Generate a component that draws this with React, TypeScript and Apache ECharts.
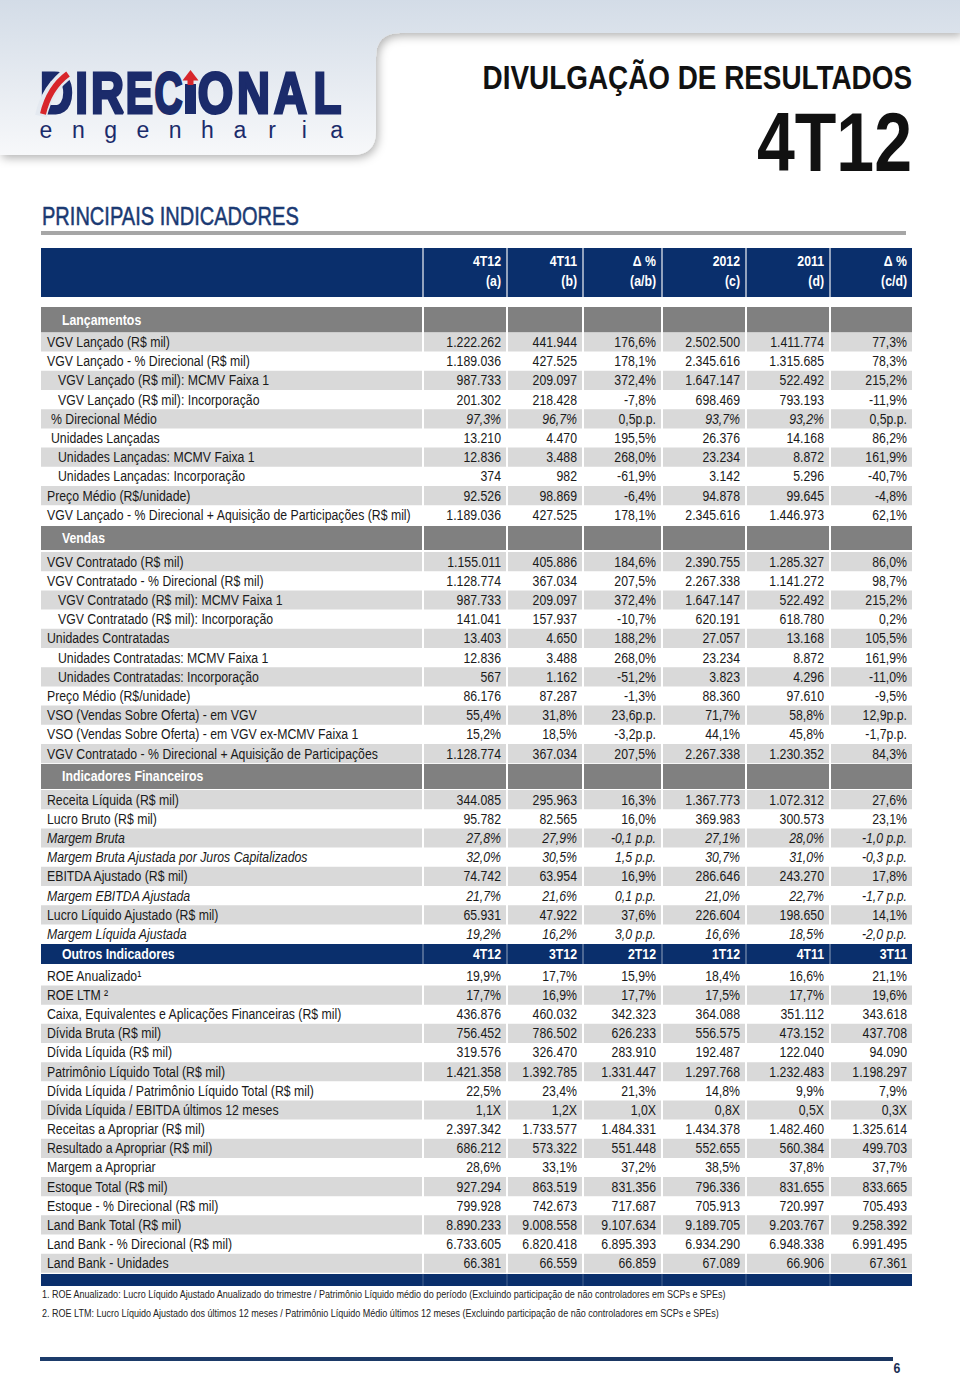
import React, { useEffect, useRef } from "react";
import * as echarts from "echarts";

// ---------------- DATA ----------------
const periodTop = ["4T12", "4T11", "Δ %", "2012", "2011", "Δ %"];
const periodSub = ["(a)", "(b)", "(a/b)", "(c)", "(d)", "(c/d)"];
const sectionTitles = ["Lançamentos", "Vendas", "Indicadores Financeiros", "Outros Indicadores"];
const otherPeriods = ["4T12", "3T12", "2T12", "1T12", "4T11", "3T11"];

const launchLabels = [
  "VGV Lançado (R$ mil)",
  "VGV Lançado - % Direcional (R$ mil)",
  "VGV Lançado (R$ mil): MCMV Faixa 1",
  "VGV Lançado (R$ mil): Incorporação",
  "% Direcional Médio",
  "Unidades Lançadas",
  "Unidades Lançadas: MCMV Faixa 1",
  "Unidades Lançadas: Incorporação",
  "Preço Médio (R$/unidade)",
  "VGV Lançado - % Direcional + Aquisição de Participações (R$ mil)",
];
const launch4T12 = ["1.222.262", "1.189.036", "987.733", "201.302", "97,3%", "13.210", "12.836", "374", "92.526", "1.189.036"];
const launch4T11 = ["441.944", "427.525", "209.097", "218.428", "96,7%", "4.470", "3.488", "982", "98.869", "427.525"];
const launchQoQ = ["176,6%", "178,1%", "372,4%", "-7,8%", "0,5p.p.", "195,5%", "268,0%", "-61,9%", "-6,4%", "178,1%"];
const launch2012 = ["2.502.500", "2.345.616", "1.647.147", "698.469", "93,7%", "26.376", "23.234", "3.142", "94.878", "2.345.616"];
const launch2011 = ["1.411.774", "1.315.685", "522.492", "793.193", "93,2%", "14.168", "8.872", "5.296", "99.645", "1.446.973"];
const launchYoY = ["77,3%", "78,3%", "215,2%", "-11,9%", "0,5p.p.", "86,2%", "161,9%", "-40,7%", "-4,8%", "62,1%"];

const salesLabels = [
  "VGV Contratado (R$ mil)",
  "VGV Contratado - % Direcional (R$ mil)",
  "VGV Contratado (R$ mil): MCMV Faixa 1",
  "VGV Contratado (R$ mil): Incorporação",
  "Unidades Contratadas",
  "Unidades Contratadas: MCMV Faixa 1",
  "Unidades Contratadas: Incorporação",
  "Preço Médio (R$/unidade)",
  "VSO (Vendas Sobre Oferta) - em VGV",
  "VSO (Vendas Sobre Oferta) - em VGV ex-MCMV Faixa 1",
  "VGV Contratado - % Direcional + Aquisição de Participações",
];
const sales4T12 = ["1.155.011", "1.128.774", "987.733", "141.041", "13.403", "12.836", "567", "86.176", "55,4%", "15,2%", "1.128.774"];
const sales4T11 = ["405.886", "367.034", "209.097", "157.937", "4.650", "3.488", "1.162", "87.287", "31,8%", "18,5%", "367.034"];
const salesQoQ = ["184,6%", "207,5%", "372,4%", "-10,7%", "188,2%", "268,0%", "-51,2%", "-1,3%", "23,6p.p.", "-3,2p.p.", "207,5%"];
const sales2012 = ["2.390.755", "2.267.338", "1.647.147", "620.191", "27.057", "23.234", "3.823", "88.360", "71,7%", "44,1%", "2.267.338"];
const sales2011 = ["1.285.327", "1.141.272", "522.492", "618.780", "13.168", "8.872", "4.296", "97.610", "58,8%", "45,8%", "1.230.352"];
const salesYoY = ["86,0%", "98,7%", "215,2%", "0,2%", "105,5%", "161,9%", "-11,0%", "-9,5%", "12,9p.p.", "-1,7p.p.", "84,3%"];

const finLabels = [
  "Receita Líquida (R$ mil)",
  "Lucro Bruto (R$ mil)",
  "Margem Bruta",
  "Margem Bruta Ajustada por Juros Capitalizados",
  "EBITDA Ajustado (R$ mil)",
  "Margem EBITDA Ajustada",
  "Lucro Líquido Ajustado (R$ mil)",
  "Margem Líquida Ajustada",
];
const fin4T12 = ["344.085", "95.782", "27,8%", "32,0%", "74.742", "21,7%", "65.931", "19,2%"];
const fin4T11 = ["295.963", "82.565", "27,9%", "30,5%", "63.954", "21,6%", "47.922", "16,2%"];
const finQoQ = ["16,3%", "16,0%", "-0,1 p.p.", "1,5 p.p.", "16,9%", "0,1 p.p.", "37,6%", "3,0 p.p."];
const fin2012 = ["1.367.773", "369.983", "27,1%", "30,7%", "286.646", "21,0%", "226.604", "16,6%"];
const fin2011 = ["1.072.312", "300.573", "28,0%", "31,0%", "243.270", "22,7%", "198.650", "18,5%"];
const finYoY = ["27,6%", "23,1%", "-1,0 p.p.", "-0,3 p.p.", "17,8%", "-1,7 p.p.", "14,1%", "-2,0 p.p."];

const otherLabels = [
  "ROE Anualizado¹",
  "ROE LTM ²",
  "Caixa, Equivalentes e Aplicações Financeiras (R$ mil)",
  "Dívida Bruta (R$ mil)",
  "Dívida Líquida (R$ mil)",
  "Patrimônio Líquido Total (R$ mil)",
  "Dívida Líquida / Patrimônio Líquido Total (R$ mil)",
  "Dívida Líquida / EBITDA últimos 12 meses",
  "Receitas a Apropriar (R$ mil)",
  "Resultado a Apropriar (R$ mil)",
  "Margem a Apropriar",
  "Estoque Total (R$ mil)",
  "Estoque - % Direcional (R$ mil)",
  "Land Bank Total (R$ mil)",
  "Land Bank - % Direcional (R$ mil)",
  "Land Bank - Unidades",
];
const other4T12 = ["19,9%", "17,7%", "436.876", "756.452", "319.576", "1.421.358", "22,5%", "1,1X", "2.397.342", "686.212", "28,6%", "927.294", "799.928", "8.890.233", "6.733.605", "66.381"];
const other3T12 = ["17,7%", "16,9%", "460.032", "786.502", "326.470", "1.392.785", "23,4%", "1,2X", "1.733.577", "573.322", "33,1%", "863.519", "742.673", "9.008.558", "6.820.418", "66.559"];
const other2T12 = ["15,9%", "17,7%", "342.323", "626.233", "283.910", "1.331.447", "21,3%", "1,0X", "1.484.331", "551.448", "37,2%", "831.356", "717.687", "9.107.634", "6.895.393", "66.859"];
const other1T12 = ["18,4%", "17,5%", "364.088", "556.575", "192.487", "1.297.768", "14,8%", "0,8X", "1.434.378", "552.655", "38,5%", "796.336", "705.913", "9.189.705", "6.934.290", "67.089"];
const other4T11 = ["16,6%", "17,7%", "351.112", "473.152", "122.040", "1.232.483", "9,9%", "0,5X", "1.482.460", "560.384", "37,8%", "831.655", "720.997", "9.203.767", "6.948.338", "66.906"];
const other3T11 = ["21,1%", "19,6%", "343.618", "437.708", "94.090", "1.198.297", "7,9%", "0,3X", "1.325.614", "499.703", "37,7%", "833.665", "705.493", "9.258.392", "6.991.495", "67.361"];

const footnotes = [
  "1. ROE Anualizado: Lucro Líquido Ajustado Anualizado do trimestre / Patrimônio Líquido médio do período (Excluindo participação de não controladores em SCPs e SPEs)",
  "2. ROE LTM: Lucro Líquido Ajustado dos últimos 12 meses / Patrimônio Líquido Médio últimos 12 meses (Excluindo participação de não controladores em SCPs e SPEs)",
];

// ---------------- STYLE (kept apart from data) ----------------
const launchIndent = [0, 0, 2, 2, 1, 1, 2, 2, 0, 0];
const launchItalic = [0, 0, 0, 0, 1, 0, 0, 0, 0, 0];
const salesIndent = [0, 0, 2, 2, 0, 2, 2, 0, 0, 0, 0];
const salesItalic = [0, 0, 0, 0, 0, 0, 0, 0, 0, 0, 0];
const finIndent = [0, 0, 0, 0, 0, 0, 0, 0];
const finItalic = [0, 0, 2, 2, 0, 2, 0, 2];
const otherIndent = new Array(16).fill(0);
const otherItalic = new Array(16).fill(0);

const NAVY = "#0a2f6c";
const LOGO_NAVY = "#1b2b6b";
const LOGO_RED = "#d8262b";
const GRAYBAR = "#808080";
const STRIPE = "#d9d9d9";
const INK = "#1a1a1a";
const COL_L = [41, 424, 508, 584, 663, 747, 831];
const COL_R = [422, 506, 582, 661, 745, 829, 912];
const INDENT_PX = [0, 4, 11];
const ROW_FONT = 15;

const PANEL_D = "M0 0 H960 V33 H400 Q376 33 376 57 V131 Q376 155 352 155 H0 Z";

let NARROW_OK = true;
function detectNarrow() {
  try {
    const c = document.createElement("canvas").getContext("2d") as CanvasRenderingContext2D;
    const s = "abcdefghijklmnopWMQ0123";
    c.font = '40px "Liberation Sans Narrow", monospace';
    const a = c.measureText(s).width;
    c.font = "40px monospace";
    const b = c.measureText(s).width;
    return Math.abs(a - b) > 1;
  } catch (e) {
    return false;
  }
}

function T(x: number, y: number, text: string, o: any = {}) {
  const narrow = o.narrow !== false;
  const family = narrow && NARROW_OK
    ? '"Liberation Sans Narrow", "Arial Narrow", sans-serif'
    : '"Liberation Sans", Arial, sans-serif';
  let sx = o.sx ?? 1;
  if (narrow && !NARROW_OK) sx *= 0.82;
  const align = o.align || "left";
  const va = o.vAlign || "middle";
  const style: any = {
    text,
    x: 0,
    y: 0,
    fill: o.fill || INK,
    fontSize: o.size || ROW_FONT,
    fontFamily: family,
    fontWeight: o.bold ? "bold" : "normal",
    fontStyle: o.italic ? "italic" : "normal",
    align,
    textAlign: align,
    verticalAlign: va,
    textVerticalAlign: va,
  };
  if (o.stroke) {
    style.stroke = o.stroke;
    style.lineWidth = o.lineWidth || 1;
  }
  return { type: "text", x, y, scaleX: sx, silent: true, z: o.z ?? 5, style };
}

const sections = [
  { labels: launchLabels, cols: [launch4T12, launch4T11, launchQoQ, launch2012, launch2011, launchYoY], indent: launchIndent, italic: launchItalic, firstGray: true, top: 332.4, rowH: 19.2, delta: [2, 5] },
  { labels: salesLabels, cols: [sales4T12, sales4T11, salesQoQ, sales2012, sales2011, salesYoY], indent: salesIndent, italic: salesItalic, firstGray: true, top: 552, rowH: 19.2, delta: [2, 5] },
  { labels: finLabels, cols: [fin4T12, fin4T11, finQoQ, fin2012, fin2011, finYoY], indent: finIndent, italic: finItalic, firstGray: true, top: 790, rowH: 19.2, delta: [] },
  { labels: otherLabels, cols: [other4T12, other3T12, other2T12, other1T12, other4T11, other3T11], indent: otherIndent, italic: otherItalic, firstGray: false, top: 966.4, rowH: 19.15, delta: [] },
];

function makeRender(sec: any) {
  return (params: any, api: any) => {
    const i = api.value(1) as number;
    const pt = api.coord([0, i]);
    const h = api.size([0, 1])[1];
    const yc = pt[1];
    const y0 = yc - h / 2;
    const children: any[] = [];
    const gray = (i % 2 === 0) === sec.firstGray;
    if (gray) {
      for (let c = 0; c < 7; c++) {
        children.push({
          type: "rect",
          shape: { x: COL_L[c], y: y0, width: COL_R[c] - COL_L[c], height: h },
          style: { fill: STRIPE },
          z2: 0,
        });
      }
    }
    const it = sec.italic[i];
    children.push(T(47 + INDENT_PX[sec.indent[i]], yc, sec.labels[i], { italic: it === 2 }));
    for (let c = 0; c < 6; c++) {
      const isDelta = sec.delta.indexOf(c) >= 0;
      const ital = it === 2 || (it === 1 && !isDelta);
      children.push(T(COL_R[c + 1] - 5, yc, sec.cols[c][i], { italic: ital, align: "right" }));
    }
    return { type: "group", children };
  };
}

function buildGraphic() {
  const els: any[] = [];
  // header panel background
  els.push({
    type: "hdrPanel",
    x: 0,
    y: 0,
    z: 0,
    silent: true,
    style: {
      fill: new echarts.graphic.LinearGradient(0, 0, 0, 1, [
        { offset: 0, color: "#d3dce7" },
        { offset: 1, color: "#f7f8fa" },
      ]),
      shadowBlur: 10,
      shadowColor: "rgba(0,0,0,0.30)",
      shadowOffsetX: 2,
      shadowOffsetY: 3,
    },
  });

  // logo word (heavy, condensed letters)
  const word = "DIRECIONAL";
  const centers = [56.5, 81.5, 107.5, 139.5, 168.5, -1, 215.5, 253.5, 290.5, 327.5];
  const sxs = [0.8, 0.8, 0.8, 0.72, 0.68, 0, 0.8, 0.8, 0.8, 0.8];
  for (let k = 0; k < word.length; k++) {
    if (centers[k] < 0) continue;
    els.push(T(centers[k], 93, word[k], { narrow: false, bold: true, size: 57, sx: sxs[k], fill: LOGO_NAVY, align: "center", stroke: LOGO_NAVY, lineWidth: 3 }));
  }
  // arrow "I"
  els.push({ type: "rect", z: 6, silent: true, shape: { x: 185, y: 84, width: 11, height: 30 }, style: { fill: LOGO_NAVY } });
  els.push({ type: "rect", z: 6, silent: true, shape: { x: 187.5, y: 78, width: 6, height: 7 }, style: { fill: LOGO_RED } });
  els.push({ type: "polygon", z: 6, silent: true, shape: { points: [[182.5, 80.5], [198.5, 80.5], [190.5, 70]] }, style: { fill: LOGO_RED } });
  // D swoosh
  els.push({ type: "bezierCurve", z: 6, silent: true, shape: { x1: 41, y1: 116, x2: 70, y2: 72, cpx1: 47, cpy1: 88 }, style: { stroke: "#e4e9f0", lineWidth: 12, fill: "none" } });
  els.push({ type: "bezierCurve", z: 7, silent: true, shape: { x1: 43, y1: 114, x2: 68, y2: 74, cpx1: 49, cpy1: 88 }, style: { stroke: LOGO_RED, lineWidth: 6, fill: "none" } });
  // engenharia
  const sub = "engenharia";
  for (let k = 0; k < sub.length; k++) {
    els.push(T(46 + k * 32.3, 130, sub[k], { narrow: false, size: 23, fill: LOGO_NAVY, align: "center" }));
  }

  // titles
  els.push(T(912, 77, "DIVULGAÇÃO DE RESULTADOS", { bold: true, size: 33, sx: 1.03, align: "right", fill: "#111" }));
  els.push(T(912, 142, "4T12", { bold: true, size: 83, align: "right", fill: "#111" }));
  els.push(T(42, 216.5, "PRINCIPAIS INDICADORES", { size: 26, sx: 0.94, fill: "#1b3a73", stroke: "#1b3a73", lineWidth: 0.5 }));
  els.push({ type: "rect", silent: true, shape: { x: 41, y: 231, width: 865, height: 4 }, style: { fill: "#a6a6a6" } });

  // table header
  els.push({ type: "rect", silent: true, shape: { x: 41, y: 248, width: 871, height: 49 }, style: { fill: NAVY } });
  for (let c = 1; c < 7; c++) {
    const gx = (COL_R[c - 1] + COL_L[c]) / 2;
    els.push({ type: "rect", silent: true, z: 1, shape: { x: gx - 0.75, y: 248, width: 1.5, height: 49 }, style: { fill: "rgba(255,255,255,0.75)" } });
    els.push(T(COL_R[c] - 5, 261, periodTop[c - 1], { bold: true, align: "right", fill: "#fff" }));
    els.push(T(COL_R[c] - 5, 281, periodSub[c - 1], { bold: true, align: "right", fill: "#fff" }));
  }

  // gray section bars
  const bars = [
    { y: 307, h: 25.4 },
    { y: 526, h: 24 },
    { y: 764, h: 25 },
  ];
  bars.forEach((b, k) => {
    for (let c = 0; c < 7; c++) {
      els.push({ type: "rect", silent: true, shape: { x: COL_L[c], y: b.y, width: COL_R[c] - COL_L[c], height: b.h }, style: { fill: GRAYBAR } });
    }
    els.push(T(62, b.y + b.h / 2, sectionTitles[k], { bold: true, fill: "#fff" }));
  });

  // Outros Indicadores bar
  els.push({ type: "rect", silent: true, shape: { x: 41, y: 944, width: 871, height: 20 }, style: { fill: NAVY } });
  for (let c = 1; c < 7; c++) {
    const gx = (COL_R[c - 1] + COL_L[c]) / 2;
    els.push({ type: "rect", silent: true, z: 1, shape: { x: gx - 0.5, y: 944, width: 1, height: 20 }, style: { fill: "rgba(255,255,255,0.55)" } });
    els.push(T(COL_R[c] - 5, 954, otherPeriods[c - 1], { bold: true, align: "right", fill: "#fff" }));
  }
  els.push(T(62, 954, sectionTitles[3], { bold: true, fill: "#fff" }));

  // closing bar
  els.push({ type: "rect", silent: true, shape: { x: 41, y: 1274, width: 871, height: 12 }, style: { fill: NAVY } });
  for (let c = 1; c < 7; c++) {
    const gx = (COL_R[c - 1] + COL_L[c]) / 2;
    els.push({ type: "rect", silent: true, z: 1, shape: { x: gx - 0.5, y: 1274, width: 1, height: 12 }, style: { fill: "rgba(255,255,255,0.25)" } });
  }

  // footnotes
  footnotes.forEach((f, k) => {
    els.push(T(42, 1294 + k * 19, f, { size: 11, fill: "#222" }));
  });

  // page footer
  els.push({
    type: "rect",
    silent: true,
    shape: { x: 40, y: 1357, width: 853, height: 4 },
    style: {
      fill: new echarts.graphic.LinearGradient(0, 0, 1, 0, [
        { offset: 0, color: "#1d3c6b" },
        { offset: 1, color: "#1a3560" },
      ]),
    },
  });
  els.push(T(897, 1368, "6", { bold: true, size: 15, align: "center", fill: "#1c2f55" }));
  return els;
}

function buildOption() {
  return {
    animation: false,
    grid: sections.map((s) => ({ left: 0, width: 960, top: s.top, height: s.labels.length * s.rowH, containLabel: false, show: false })),
    xAxis: sections.map((_, k) => ({ type: "value", gridIndex: k, min: 0, max: 960, show: false })),
    yAxis: sections.map((s, k) => ({ type: "category", gridIndex: k, inverse: true, data: s.labels, show: false })),
    series: sections.map((s, k) => ({
      type: "custom",
      coordinateSystem: "cartesian2d",
      xAxisIndex: k,
      yAxisIndex: k,
      silent: true,
      clip: false,
      encode: { x: 0, y: 1 },
      data: s.labels.map((_, i) => [0, i]),
      renderItem: makeRender(s),
    })),
    graphic: { elements: buildGraphic() },
  };
}

export default function App() {
  const ref = useRef<HTMLDivElement>(null);
  useEffect(() => {
    if (!ref.current) return;
    NARROW_OK = detectNarrow();
    try {
      echarts.graphic.registerShape("hdrPanel", echarts.graphic.extendPath(PANEL_D, {}) as any);
    } catch (e) {
      /* ignore */
    }
    const chart = echarts.init(ref.current, null, { renderer: "svg" });
    chart.setOption(buildOption() as any);
    return () => chart.dispose();
  }, []);
  return (
    <div
      ref={ref}
      style={{ position: "absolute", left: 0, top: 0, width: 960, height: 1378, background: "#fff" }}
    />
  );
}
